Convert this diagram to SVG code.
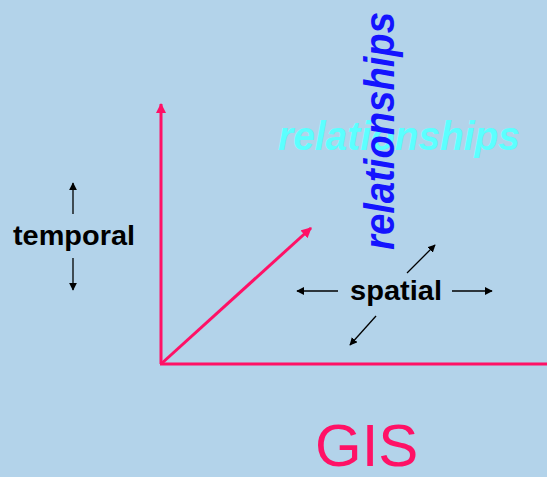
<svg xmlns="http://www.w3.org/2000/svg" width="547" height="477" viewBox="0 0 547 477">
<style>
.lbl{font-family:"Liberation Sans",Arial,sans-serif;font-weight:bold;fill:#000}
.axis{stroke:#ff1166;stroke-width:3;fill:none}
.thin{stroke:#000;stroke-width:1.3;fill:none}
</style>
<defs>
<marker id="pk" viewBox="0 0 10 10" refX="9" refY="5" markerWidth="3.5" markerHeight="3.5" orient="auto" markerUnits="strokeWidth">
<path d="M0,0 L10,5 L0,10 z" fill="#ff1166"/>
</marker>
<marker id="bk" viewBox="0 0 10 10" refX="9" refY="5" markerWidth="6" markerHeight="6" orient="auto" markerUnits="strokeWidth">
<path d="M0,0 L10,5 L0,10 z" fill="#000"/>
</marker>
</defs>
<rect width="547" height="477" fill="#b3d3ea"/>
<g id="connectors">
<line class="axis" x1="161" y1="364" x2="161" y2="104" marker-end="url(#pk)"/>
<line class="axis" x1="160" y1="364" x2="547" y2="364"/>
<line class="axis" x1="161" y1="364" x2="311" y2="228" marker-end="url(#pk)"/>
<line class="thin" x1="73" y1="214" x2="73" y2="183" marker-end="url(#bk)"/>
<line class="thin" x1="73" y1="258" x2="73" y2="290" marker-end="url(#bk)"/>
<line class="thin" x1="338" y1="291" x2="297" y2="291" marker-end="url(#bk)"/>
<line class="thin" x1="452" y1="291" x2="492" y2="291" marker-end="url(#bk)"/>
<line class="thin" x1="407" y1="273" x2="435" y2="245" marker-end="url(#bk)"/>
<line class="thin" x1="376" y1="316" x2="350" y2="345" marker-end="url(#bk)"/>
</g>
<g id="relationships-cyan">
<text x="278" y="150" font-family="Liberation Sans, Arial, sans-serif" font-weight="bold" font-style="italic" font-size="40" fill="#5cffff" textLength="242" lengthAdjust="spacingAndGlyphs">relationships</text>
</g>
<g id="relationships-blue">
<text transform="translate(394,250) rotate(-90)" font-family="Liberation Sans, Arial, sans-serif" font-weight="bold" font-style="italic" font-size="42" fill="#1414ff" textLength="238" lengthAdjust="spacingAndGlyphs">relationships</text>
</g>
<g id="temporal">
<text class="lbl" x="13" y="245" font-size="28" textLength="122" lengthAdjust="spacingAndGlyphs">temporal</text>
</g>
<g id="spatial">
<text class="lbl" x="350" y="300" font-size="28" textLength="92" lengthAdjust="spacingAndGlyphs">spatial</text>
</g>
<g id="gis">
<text x="315" y="466" font-family="Liberation Sans, Arial, sans-serif" font-size="60" fill="#ff1166">GIS</text>
</g>
</svg>
